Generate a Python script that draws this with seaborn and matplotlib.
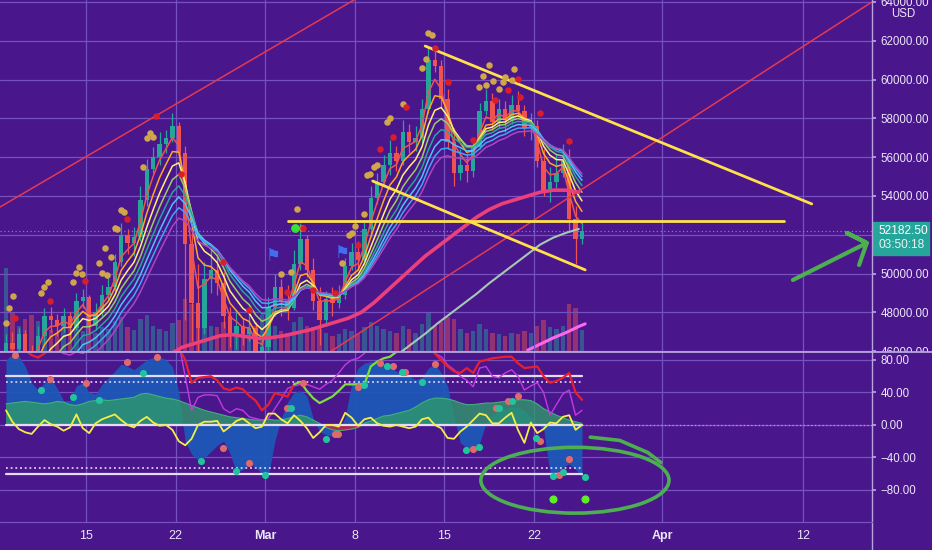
import numpy as np
import pandas as pd
import matplotlib
matplotlib.use("Agg")
import matplotlib.pyplot as plt
from matplotlib.patches import Ellipse, Rectangle
from matplotlib.lines import Line2D
from matplotlib.transforms import Bbox, TransformedBbox
import seaborn as sns

# BTCUSD, 12h bars. x axis = days from 15 Feb 2021 (bar centres)
pre_closes = [37000, 36900, 37400, 38300, 39700, 39300, 38800, 38900, 40500]
closes = [46400, 46100, 46900, 45800, 45200, 46800, 47800, 47600, 47300, 47800,
          47200, 48600, 48800, 47300, 48000, 48900, 49300, 50600, 52000, 51600,
          51900, 53800, 55400, 56000, 56700, 57000, 57600, 56200, 51500, 48500,
          47200, 49700, 50200, 49500, 47800, 46800, 47300, 46900, 47200, 45800,
          46200, 48300, 49300, 48600, 48200, 50500, 51800, 50200, 48600, 47600,
          48700, 48500, 48900, 50400, 51100, 50700, 52300, 53900, 54700, 55600,
          56200, 55800, 57300, 56800, 57000, 58500, 61000, 60700, 59000, 56800,
          55200, 55600, 55300, 56500, 58400, 58900, 57800, 58500, 57900, 58700,
          58400, 57500, 57600, 55800, 54200, 54700, 55200, 55800, 52800, 51800,
          52182.5]
highs = [46900, 47000, 47200, 47100, 46300, 47300, 48200, 48300, 47900, 48200,
         48000, 49000, 49200, 48900, 48500, 49400, 49800, 51000, 52600, 52300,
         52400, 54500, 55900, 56500, 57300, 57400, 58300, 57800, 56600, 52300,
         50500, 50600, 51300, 51000, 50100, 48300, 48000, 47700, 48300, 47500,
         46900, 48800, 50000, 49700, 49400, 51200, 52600, 52000, 50800, 49300,
         49100, 49300, 49400, 50800, 51600, 51700, 52700, 54500, 55200, 56100,
         56900, 56600, 57900, 57700, 57600, 59000, 61700, 61600, 61000, 59500,
         57500, 56400, 56200, 57000, 58800, 59500, 59300, 59000, 58900, 59200,
         59400, 58700, 58300, 57900, 56400, 55500, 56200, 56700, 56400, 53500,
         52700]
lows = [40300, 45700, 45900, 45300, 43800, 44900, 46400, 47000, 46800, 47000,
        46600, 47100, 48200, 46900, 47100, 47800, 48600, 49100, 50400, 51000,
        50900, 51700, 53500, 55200, 55600, 56200, 56800, 55800, 47600, 46500,
        45000, 46900, 49000, 48900, 47200, 46200, 46100, 46300, 46500, 45300,
        43000, 45900, 47800, 47800, 47600, 48100, 50200, 49800, 48100, 46300,
        47300, 47800, 48200, 48700, 50200, 50200, 50500, 51900, 53600, 54500,
        55100, 55300, 55600, 56200, 56300, 56700, 58300, 60400, 58600, 56400,
        54500, 54800, 54700, 55000, 56400, 58200, 57400, 57500, 57300, 57700,
        58100, 57100, 56900, 55500, 54000, 53700, 54400, 55000, 52200, 50500,
        51500]
volume = [95, 45, 30, 38, 42, 35, 28, 25, 22, 30,
          26, 32, 24, 30, 22, 28, 26, 35, 40, 28,
          25, 38, 42, 30, 26, 24, 33, 36, 60, 55,
          48, 40, 30, 28, 34, 30, 22, 20, 24, 30,
          42, 38, 30, 24, 22, 34, 40, 30, 28, 26,
          22, 18, 20, 26, 24, 20, 28, 34, 30, 26,
          24, 22, 30, 26, 22, 32, 44, 30, 34, 40,
          38, 26, 22, 24, 32, 26, 22, 20, 18, 22,
          20, 24, 22, 30, 36, 28, 26, 30, 55, 50,
          25]

ribbon_spans = [3, 5, 7, 9, 11, 13, 15, 17]
ribbon_colors = ["#ef5350", "#ffa726", "#fff176", "#9ccc65",
                 "#26a69a", "#4fc3f7", "#42a5f5", "#ab47bc"]

# slow moving averages (daily)
pink_x = [5.5, 6.5, 7.5, 8.5, 9.5, 10.5, 11.5, 12.5, 13.5, 14.5, 15.5, 16.5,
          17.5, 18.5, 19.5, 20.5, 21.5, 22.5, 23.5, 24.5, 25.5, 26.5, 27.5,
          28.5, 29.5, 30.5, 31.5, 32.5, 33.5, 34.5, 35.5, 36.5, 37.5, 38.5]
pink_ma = [45300, 45800, 46200, 46400, 46600, 46800, 46850, 46750, 46650, 46700,
           46800, 46950, 47100, 47300, 47500, 47700, 48000, 48500, 49100, 49700,
           50300, 50900, 51400, 51900, 52400, 52900, 53300, 53600, 53800, 54000,
           54200, 54300, 54300, 54200]
grey_x = [23.5, 24.5, 25.5, 26.5, 27.5, 28.5, 29.5, 30.5, 31.5, 32.5, 33.5,
          34.5, 35.5, 36.5, 37.5, 38.5]
grey_ma = [45400, 45900, 46400, 46900, 47450, 47950, 48450, 48950, 49500, 50000,
           50500, 51000, 51500, 51850, 52100, 52300]
volma_x = [34.5, 35.5, 36.5, 37.5, 38.5, 39.0]
volma = [2, 9, 16, 22, 29, 32]

gold_x = [-6.25, -6.0, -5.7, -3.5, -3.3, -3.0, -1.0, -0.8, -0.55, -0.3, 1.0, 1.25,
          1.65, 1.5, 1.95, 2.25, 2.4, 2.75, 3.0, 4.45, 4.75, 5.0, 5.25, 15.25,
          16.0, 16.5, 16.9, 20.0, 20.55, 20.8, 21.0, 21.7, 21.95, 22.2, 22.5,
          22.7, 23.5, 23.75, 24.75, 26.25, 26.55, 26.7, 27.0, 30.7, 31.0, 31.25,
          31.5, 31.8, 32.25, 32.6, 32.75, 33.3, 33.45]
gold_y = [47450, 48230, 48845, 49000, 49310, 49570, 49570, 50030, 50340, 49980,
          50550, 50030, 49930, 51320, 50850, 52350, 52300, 53280, 53170, 55490,
          56990, 57250, 57040, 49980, 50080, 53330, 52350, 50550, 51990, 52090,
          52450, 53070, 55080, 55130, 55490, 55600, 57810, 58020, 58740, 60600,
          61060, 62400, 62300, 59620, 60190, 59720, 60750, 59930, 59520, 59880,
          60130, 59980, 60540]
red_x = [-5.55, -2.8, -0.1, 3.2, 5.47, 7.4, 10.7, 12.75, 15.7, 16.95, 17.7, 19.45,
         21.25, 23.0, 24.0, 25.0, 27.25, 28.3, 30.25, 31.95, 32.95, 33.75, 33.9,
         35.5, 37.75]
red_y = [47710, 48590, 49620, 52810, 58120, 55130, 50600, 48120, 49050, 52350,
         49150, 49000, 51470, 56420, 57040, 58590, 61630, 59880, 56890, 58950,
         59460, 60030, 59100, 58280, 56830]
signal_x = [16.3]
signal_y = [52350]
flag_x = [14.6, 20.0]
flag_y = [50900, 51060]

# hand drawn lines (day, price)
red_channel = [((-6.72, 53432), (21.0, 64130)), ((15.0, 44230), (61.4, 64000))]
yellow_lines = [((26.5, 61730), (56.7, 53590)), ((15.8, 52710), (54.5, 52710)),
                ((22.4, 54770), (39.0, 50190))]
arrow_pts = [(55.23, 49669), (61.0, 51577), (59.45, 52092), (61.0, 51577), (60.4, 50442)]

# oscillator panel
wave_blue = [80, 87, 85, 72, 52, 43, 52, 58, 45, 30,
             30, 48, 52, 40, 38, 50, 58, 66, 75, 72,
             68, 74, 80, 83, 84, 80, 72, 40, -20, -36,
             -43, -40, -33, -25, -20, -35, -58, -55, -48, -52,
             -60, -62, -20, 8, 28, 40, 42, 36, 8, -8,
             -12, -14, -8, 10, 50, 70, 76, 78, 77, 76,
             72, 66, 63, 60, 56, 58, 70, 75, 64, 48,
             10, -22, -28, -30, -22, 2, 12, 18, 20, 22,
             22, 18, 10, 2, -5, -58, -60, -52, -48, -55,
             -63]
wave_green = [26, 27, 28, 29, 28, 27, 26, 27, 29, 28,
              25, 24, 26, 29, 30, 31, 30, 31, 32, 33,
              34, 38, 39, 37, 35, 33, 32, 30, 27, 24,
              21, 18, 16, 14, 12, 10, 9, 8, 7, 6,
              6, 7, 6, 6, 8, 10, 12, 10, 6, 2,
              -3, -6, -7, -6, -5, -3, 2, 5, 8, 11,
              12, 14, 16, 18, 22, 27, 31, 33, 33, 32,
              30, 27, 25, 25, 26, 27, 27, 28, 29, 30,
              31, 31, 30, 26, 20, 16, 12, 9, 6, 4,
              2]
fast_line = [18, 4, -5, -9, -11, -2, 6, 1, -2, -7,
             -3, 13, -4, -10, 2, 7, 10, 13, 6, 0,
             -3, 5, 10, 3, -1, 0, -6, -20, -25, -17,
             0, 4, 4, 5, -8, -2, 5, 8, 2, -4,
             -2, 14, 14, 7, 2, 12, 5, -4, -16, -9,
             0, 0, -2, 15, 9, -1, 7, 9, 2, -1,
             -2, 0, -2, -4, -2, 7, 9, 0, -4, -16,
             -17, -8, -2, 6, 14, 12, 2, 2, 9, 15,
             -6, -22, 3, -10, -5, 3, 2, 10, 12, -6,
             0]
mom_line = [100, 100, 100, 92, 86, 83, 88, 95, 100, 100,
            100, 100, 100, 100, 100, 100, 100, 100, 100, 100,
            100, 100, 100, 100, 100, 100, 100, 95, 80, 52,
            58, 59, 60, 55, 45, 43, 46, 44, 36, 30,
            18, 25, 39, 37, 35, 50, 53, 42, 33, 27,
            31, 35, 42, 50, 50, 50, 50, 72, 78, 82,
            84, 90, 95, 100, 100, 100, 100, 88, 80, 72,
            66, 64, 70, 64, 78, 80, 82, 83, 84, 84,
            76, 70, 71, 72, 60, 52, 54, 58, 64, 40,
            31]
mom_green = (45, 62)
magenta_line = [100, 100, 100, 100, 100, 100, 100, 100, 92, 88,
                86, 90, 88, 92, 100, 100, 100, 100, 100, 100,
                100, 100, 100, 100, 100, 100, 100, 100, 60, 18,
                34, 37, 37, 36, 20, 15, 20, 18, 10, 8,
                6, 8, 20, 32, 45, 48, 50, 50, 47, 44,
                50, 55, 64, 74, 80, 82, 88, 100, 100, 100,
                100, 100, 100, 100, 100, 100, 100, 88, 84, 74,
                68, 60, 55, 47, 70, 72, 60, 58, 64, 68,
                60, 43, 48, 52, 40, 12, 25, 38, 43, 12,
                18]
levels = [60, 53, 0, -53, -60]
salmon_x = [-5.55, -2.8, 0.0, 3.2, 5.55, 10.7, 12.75, 15.7, 16.95, 19.45, 19.7, 21.25,
            23.0, 24.0, 24.9, 27.25, 30.25, 32.0, 32.95, 33.75, 35.45, 37.75, 36.95]
salmon_y = [86, 57, 52, 78, 84, -28, -47, 21, 52, -11, -11, 47,
            76, 73, 65, 75, -29, 21, 30, 36, -20, -42, -61]
teal_x = [-3.5, -1.0, 1.0, 4.45, 9.0, 11.7, 14.0, 16.0, 18.75, 21.7, 23.5, 24.7,
          26.25, 29.7, 30.7, 32.25, 33.3, 35.15, 36.5, 37.25, 39.0]
teal_y = [43, 34, 31, 64, -44, -57, -62, 21, -17, 49, 72, 65,
          53, -31, -27, 21, 30, -16, -63, -58, -64]
lime_x = [36.5, 39.0]
lime_y = [-91, -91]
loop = dict(center=(38.2, -68), width=14.7, height=81)
loop_tail = [(39.4, -15), (41.7, -19), (43.9, -34), (44.9, -46)]

tick_days = [0, 7, 14, 21, 28, 35, 45, 56]
tick_labels = ["15", "22", "Mar", "8", "15", "22", "Apr", "12"]
price_ticks = list(range(46000, 64001, 2000))
hidden_price_label = 52000  # sits under the last-price box
osc_ticks = [80, 40, 0, -40, -80]
osc_tick_labels = ["80.00", "40.00", "0.00", "\u221240.00", "\u221280.00"]

bg = "#4a168c"
grid_col = "#7552c0"
sep_col = "#b8a4e0"
text_col = "#ece6f8"
up_col = "#26a69a"
dn_col = "#ef5350"

sns.set_theme(style="dark")
plt.rcParams["font.family"] = ["Liberation Sans", "DejaVu Sans"]

bar_x = -6.25 + 0.5 * np.arange(len(closes))
pre_x = -6.75 - 0.5 * np.arange(len(pre_closes))[::-1]
all_x = np.concatenate([pre_x, bar_x])
all_c = pd.Series(pre_closes + closes)

o = np.array([pre_closes[-1]] + closes[:-1])
c = np.array(closes)
cols = np.where(c >= o, up_col, dn_col)

xlim = (-6.72, 61.41)
fig = plt.figure(figsize=(9.32, 5.5), dpi=100)
fig.patch.set_facecolor(bg)
rect_p = [0, 198 / 550, 872 / 932, 352 / 550]
rect_o = [0, 28 / 550, 872 / 932, 170 / 550]

vax = fig.add_axes(rect_p)
ax = fig.add_axes(rect_p, sharex=vax)
osc = fig.add_axes(rect_o, sharex=vax)
vax.axis("off")
ax.patch.set_visible(False)
osc.set_facecolor(bg)

# volume
vax.bar(bar_x, volume, width=0.34, color=cols, alpha=0.45, linewidth=0)
sns.lineplot(x=volma_x, y=volma, ax=vax, color="#ff66f0", linewidth=2.2)
vax.set_ylim(0, 400)
vax.set_xlim(*xlim)

# price panel
ax.set_xlim(*xlim)
ax.set_ylim(45957, 64103)
ax.set_xticks(tick_days)
ax.set_yticks(price_ticks, labels=["" if v == hidden_price_label else f"{v:.2f}"
                                   for v in price_ticks])
ax.grid(True, color=grid_col, linewidth=0.9)
ax.set_axisbelow(True)
for s in ax.spines.values():
    s.set_visible(False)
ax.yaxis.tick_right()
ax.tick_params(axis="y", colors=sep_col, labelcolor=text_col, labelsize=8.3,
               length=3, pad=3)
ax.tick_params(axis="x", length=0, labelbottom=False)
clip = TransformedBbox(Bbox([[0, 0.36], [1, 1]]), fig.transFigure)
for t in ax.yaxis.get_major_ticks():
    t.label2.set_clip_box(clip)
    t.label2.set_clip_on(True)

ax.vlines(bar_x, lows, highs, colors=cols, linewidth=0.9, zorder=3)
ax.bar(bar_x, np.maximum(np.abs(c - o), 40), bottom=np.minimum(o, c), width=0.34,
       color=cols, linewidth=0, zorder=3)

for span, col in zip(ribbon_spans, ribbon_colors):
    ema = all_c.ewm(span=span, adjust=False).mean()
    sns.lineplot(x=all_x, y=ema.values, ax=ax, color=col, linewidth=1.1, zorder=4)

sns.lineplot(x=pink_x, y=pink_ma, ax=ax, color="#ec407a", linewidth=2.6, zorder=5)
sns.lineplot(x=grey_x, y=grey_ma, ax=ax, color="#a5c8b4", linewidth=1.5, zorder=5)

for (x0, y0), (x1, y1) in red_channel:
    ax.plot([x0, x1], [y0, y1], color="#e53950", linewidth=1.1, zorder=6)
for (x0, y0), (x1, y1) in yellow_lines:
    ax.plot([x0, x1], [y0, y1], color="#ffe24a", linewidth=2.0, zorder=6)

ax.axhline(closes[-1], color="#6f80e8", linewidth=0.9, linestyle=(0, (1, 2)), zorder=2)

sns.scatterplot(x=gold_x, y=gold_y, ax=ax, color="#cfa64a", s=22, linewidth=0, zorder=7)
sns.scatterplot(x=red_x, y=red_y, ax=ax, color="#d81e2c", s=22, linewidth=0, zorder=7)
sns.scatterplot(x=signal_x, y=signal_y, ax=ax, color="#38e038", s=40, linewidth=0, zorder=7)
for fx, fy in zip(flag_x, flag_y):
    ax.text(fx, fy, "\u2691", color="#3f6ef0", fontsize=12, ha="center",
            va="center", family="DejaVu Sans", zorder=7)

ax.plot([p[0] for p in arrow_pts], [p[1] for p in arrow_pts], color="#4caf50",
        linewidth=3, solid_capstyle="round", solid_joinstyle="round", zorder=8,
        clip_on=False)

# last price box
ytr = ax.get_yaxis_transform()
ax.add_patch(Rectangle((1.001, 50980), 0.064, 1680, transform=ytr, color="#26a69a",
                       clip_on=False, zorder=9))
ax.text(1.008, closes[-1], f"{closes[-1]:.2f}", transform=ytr, color="white",
        fontsize=8.6, va="center", ha="left", clip_on=False, zorder=10)
ax.text(1.008, 51480, "03:50:18", transform=ytr, color="#e6f4f1",
        fontsize=8.6, va="center", ha="left", clip_on=False, zorder=10)
fig.text(903 / 932, 1 - 14 / 550, "USD", color=text_col, fontsize=8.3,
         ha="center", va="center")

# oscillator panel
osc.set_xlim(*xlim)
osc.set_ylim(-119.4, 89.8)
osc.set_yticks(osc_ticks, labels=osc_tick_labels)
osc.set_xticks(tick_days, labels=tick_labels)
osc.grid(True, color=grid_col, linewidth=0.9)
osc.set_axisbelow(True)
for s in osc.spines.values():
    s.set_visible(False)
osc.yaxis.tick_right()
osc.tick_params(axis="y", colors=sep_col, labelcolor=text_col, labelsize=8.3,
                length=3, pad=3)
osc.tick_params(axis="x", length=0, pad=5.5, labelsize=9, labelcolor=text_col)
for lbl in osc.get_xticklabels():
    if lbl.get_text() in ("Mar", "Apr"):
        lbl.set_fontweight("bold")

wb = np.array(wave_blue)
wg = np.array(wave_green)
osc.fill_between(bar_x, 0, wb, color="#1d58b8", alpha=0.95, linewidth=0, zorder=2)
osc.fill_between(bar_x, 0, wg, where=wg >= 0, interpolate=True, color="#2f9a6c",
                 alpha=0.8, linewidth=0, zorder=3)
osc.fill_between(bar_x, 0, wg, where=wg <= 0, interpolate=True, color="#c8283c",
                 alpha=0.8, linewidth=0, zorder=3)
sns.lineplot(x=bar_x, y=wg, ax=osc, color="#3fb07a", linewidth=0.8, zorder=3)

x0, x1 = bar_x[0], bar_x[-1]
for lv in levels:
    if abs(lv) == 53:
        osc.plot([x0, x1], [lv, lv], color="#d8cdf2", linewidth=1.3,
                 linestyle=(0, (1, 1.6)), zorder=4)
    else:
        osc.plot([x0, x1], [lv, lv], color="#e4dcf4", linewidth=1.6, zorder=4)
osc.plot([x1, xlim[1]], [0, 0], color="#e58ab8", linewidth=0.9,
         linestyle=(0, (1, 2)), zorder=4)

sns.lineplot(x=bar_x, y=magenta_line, ax=osc, color="#c43ae0", linewidth=1.0, zorder=5)
mom = np.array(mom_line, dtype=float)
g0, g1 = mom_green
red_part = mom.copy()
red_part[g0 + 1:g1] = np.nan
green_part = np.full_like(mom, np.nan)
green_part[g0:g1 + 1] = mom[g0:g1 + 1]
osc.plot(bar_x, red_part, color="#e8202e", linewidth=1.6, zorder=6)
osc.plot(bar_x, green_part, color="#7be03a", linewidth=1.6, zorder=6)
sns.lineplot(x=bar_x, y=fast_line, ax=osc, color="#f4ee48", linewidth=1.3, zorder=6)

sns.scatterplot(x=salmon_x, y=salmon_y, ax=osc, color="#e06a6a", s=26, linewidth=0, zorder=7)
sns.scatterplot(x=teal_x, y=teal_y, ax=osc, color="#22c49c", s=26, linewidth=0, zorder=7)
sns.scatterplot(x=lime_x, y=lime_y, ax=osc, color="#5cf024", s=34, linewidth=0, zorder=7)

osc.add_patch(Ellipse(xy=loop["center"], width=loop["width"], height=loop["height"],
                      fill=False, edgecolor="#4caf50", linewidth=2.6, zorder=8))
osc.plot([p[0] for p in loop_tail], [p[1] for p in loop_tail], color="#4caf50",
         linewidth=2.6, solid_capstyle="round", solid_joinstyle="round", zorder=8)

# separators
fig.add_artist(Line2D([0, 1], [198 / 550, 198 / 550], color=sep_col, linewidth=1.3))
fig.add_artist(Line2D([872 / 932, 872 / 932], [0, 1], color=sep_col, linewidth=1.0))
fig.add_artist(Line2D([0, 872 / 932], [28 / 550, 28 / 550], color=grid_col, linewidth=0.9))

fig.savefig("out.png", dpi=100, facecolor=bg)
